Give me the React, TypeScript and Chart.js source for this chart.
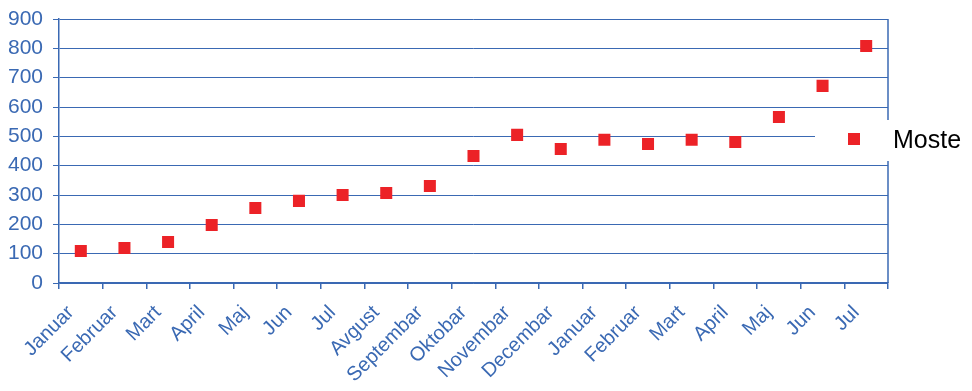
import React, { useEffect, useRef } from "react";
import { Chart, registerables } from "chart.js";

Chart.register(...registerables);

const categories = [
  "Januar", "Februar", "Mart", "April", "Maj", "Jun", "Jul", "Avgust", "Septembar",
  "Oktobar", "Novembar", "Decembar", "Januar", "Februar", "Mart", "April", "Maj", "Jun", "Jul",
];
const seriesName = "Moste";
const mosteValues = [109, 119, 140, 198, 256, 280, 300, 307, 331, 433, 505, 457, 488, 474, 488, 481, 566, 672, 808];
const yTicks = [0, 100, 200, 300, 400, 500, 600, 700, 800, 900];

const BLUE = "#3a69b3";
const RED = "#ec2227";
const FONT = "'Liberation Sans', Arial, sans-serif";

export default function App() {
  const ref = useRef<HTMLCanvasElement>(null);
  useEffect(() => {
    if (!ref.current) return;
    const framePlugin = {
      id: "frameLegend",
      afterDraw(chart: any) {
        const { ctx, chartArea: a } = chart;
        ctx.save();
        ctx.strokeStyle = BLUE;
        ctx.lineWidth = 1.5;
        ctx.beginPath();
        ctx.moveTo(a.right, a.top);
        ctx.lineTo(a.right, a.bottom);
        ctx.stroke();
        // legend
        ctx.fillStyle = "#ffffff";
        ctx.fillRect(815, 120, 157, 41);
        ctx.fillStyle = RED;
        ctx.fillRect(848, 133, 12, 12);
        ctx.fillStyle = "#000000";
        ctx.font = `25px ${FONT}`;
        ctx.textBaseline = "middle";
        ctx.textAlign = "left";
        ctx.fillText(seriesName, 893, 141);
        ctx.restore();
      },
    };
    const chart = new Chart(ref.current, {
      type: "line",
      data: {
        labels: categories,
        datasets: [
          {
            label: seriesName,
            data: mosteValues,
            showLine: false,
            pointStyle: "rect",
            pointRadius: 8.5,
            pointHoverRadius: 8.5,
            backgroundColor: RED,
            borderColor: RED,
            borderWidth: 0,
          },
        ],
      },
      options: {
        animation: false,
        responsive: false,
        maintainAspectRatio: false,
        layout: { padding: { top: 19, right: 84, left: 0, bottom: 0 } },
        plugins: { legend: { display: false }, tooltip: { enabled: false } },
        scales: {
          x: {
            offset: true,
            grid: { offset: true, drawOnChartArea: false, drawTicks: true, tickLength: 6, color: BLUE, lineWidth: 1.5 },
            border: { color: BLUE, width: 1.5 },
            ticks: {
              color: BLUE,
              font: { family: FONT, size: 20 },
              maxRotation: 45,
              minRotation: 45,
              autoSkip: false,
              padding: 12,
              labelOffset: -10,
            },
            afterFit: (s: any) => { s.height = 108; s.paddingLeft = 0; s.paddingRight = 0; },
          },
          y: {
            min: 0,
            max: 900,
            afterBuildTicks: (s: any) => { s.ticks = yTicks.map((v) => ({ value: v })); },
            grid: { color: BLUE, lineWidth: 1, tickLength: 6 },
            border: { color: BLUE, width: 1.5 },
            ticks: { color: BLUE, font: { family: FONT, size: 21 }, padding: 10 },
            afterFit: (s: any) => { s.width = 59; s.paddingTop = 0; s.paddingBottom = 0; },
          },
        },
      },
      plugins: [framePlugin],
    });
    return () => chart.destroy();
  }, []);
  return (
    <div style={{ position: "fixed", left: 0, top: 0, width: 972, height: 391, background: "#fff" }}>
      <canvas ref={ref} width={972} height={391} style={{ width: 972, height: 391 }} />
    </div>
  );
}
